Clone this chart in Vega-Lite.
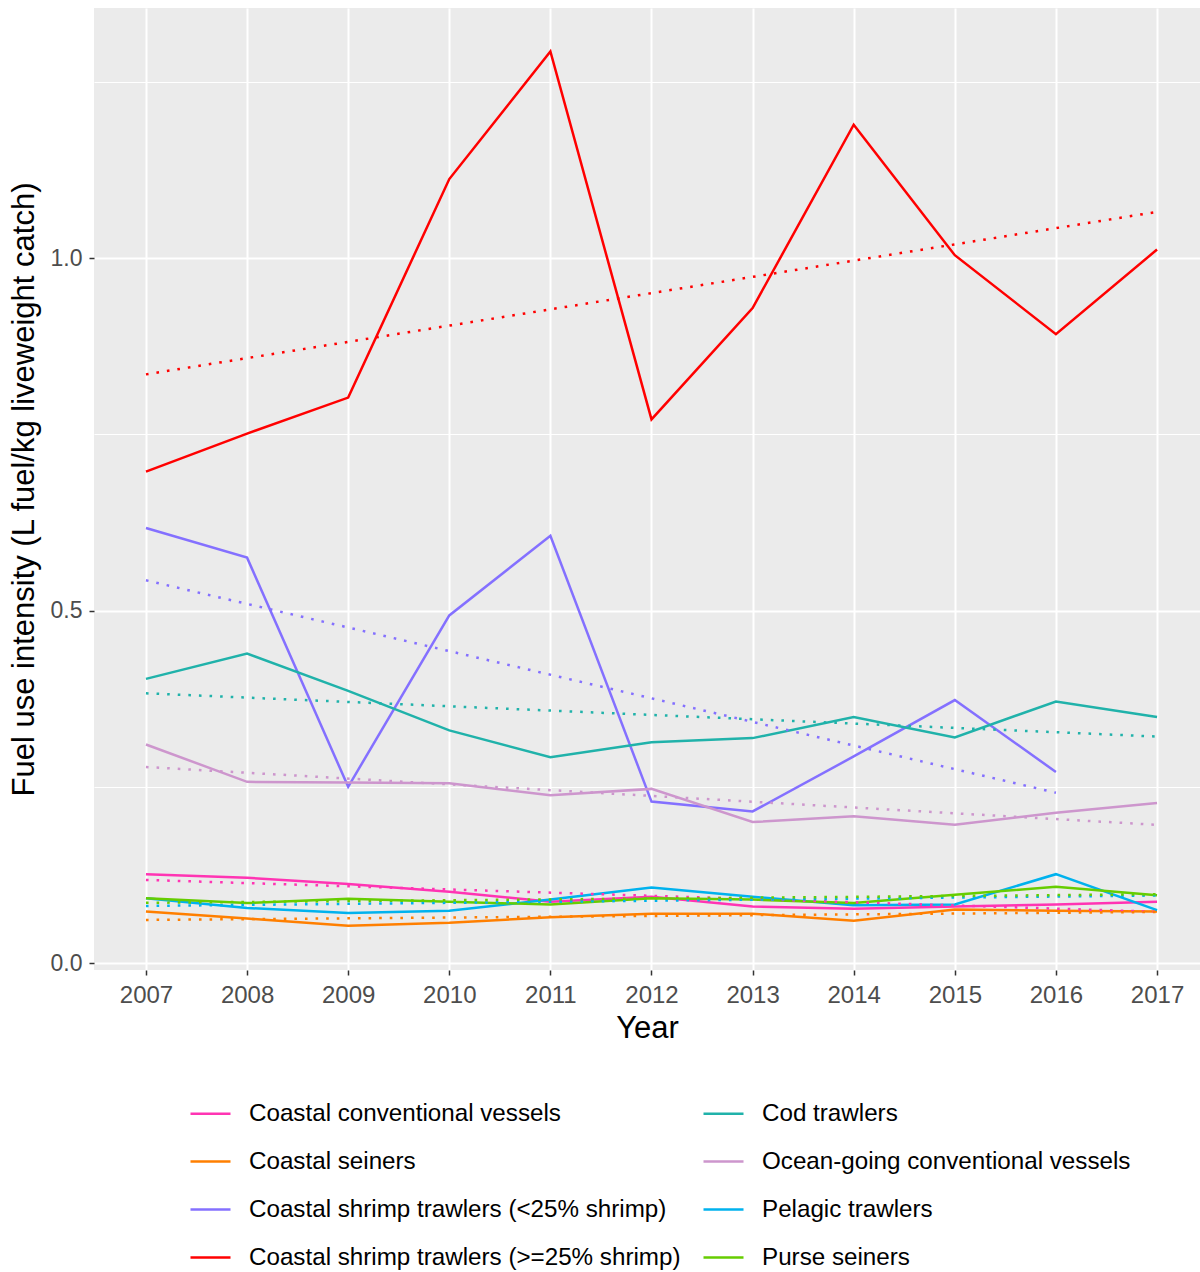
{
  "$schema": "https://vega.github.io/schema/vega-lite/v6.json",
  "autosize": {"type": "none"},
  "padding": {"left": 94, "top": 8, "right": 0, "bottom": 302},
  "width": 1106,
  "height": 962,
  "background": "white",
  "config": {
    "view": {"fill": "#EBEBEB", "stroke": null},
    "font": "Liberation Sans"
  },
  "data": {
    "values": [
      {"vessel": "Coastal conventional vessels", "year": 2007, "value": 0.126},
      {"vessel": "Coastal conventional vessels", "year": 2008, "value": 0.121},
      {"vessel": "Coastal conventional vessels", "year": 2009, "value": 0.112},
      {"vessel": "Coastal conventional vessels", "year": 2010, "value": 0.101},
      {"vessel": "Coastal conventional vessels", "year": 2011, "value": 0.087},
      {"vessel": "Coastal conventional vessels", "year": 2012, "value": 0.094},
      {"vessel": "Coastal conventional vessels", "year": 2013, "value": 0.080},
      {"vessel": "Coastal conventional vessels", "year": 2014, "value": 0.077},
      {"vessel": "Coastal conventional vessels", "year": 2015, "value": 0.080},
      {"vessel": "Coastal conventional vessels", "year": 2016, "value": 0.083},
      {"vessel": "Coastal conventional vessels", "year": 2017, "value": 0.087},
      {"vessel": "Coastal seiners", "year": 2007, "value": 0.073},
      {"vessel": "Coastal seiners", "year": 2008, "value": 0.063},
      {"vessel": "Coastal seiners", "year": 2009, "value": 0.053},
      {"vessel": "Coastal seiners", "year": 2010, "value": 0.057},
      {"vessel": "Coastal seiners", "year": 2011, "value": 0.065},
      {"vessel": "Coastal seiners", "year": 2012, "value": 0.070},
      {"vessel": "Coastal seiners", "year": 2013, "value": 0.070},
      {"vessel": "Coastal seiners", "year": 2014, "value": 0.060},
      {"vessel": "Coastal seiners", "year": 2015, "value": 0.076},
      {"vessel": "Coastal seiners", "year": 2016, "value": 0.074},
      {"vessel": "Coastal seiners", "year": 2017, "value": 0.073},
      {"vessel": "Coastal shrimp trawlers (<25% shrimp)", "year": 2007, "value": 0.617},
      {"vessel": "Coastal shrimp trawlers (<25% shrimp)", "year": 2008, "value": 0.575},
      {"vessel": "Coastal shrimp trawlers (<25% shrimp)", "year": 2009, "value": 0.250},
      {"vessel": "Coastal shrimp trawlers (<25% shrimp)", "year": 2010, "value": 0.493},
      {"vessel": "Coastal shrimp trawlers (<25% shrimp)", "year": 2011, "value": 0.606},
      {"vessel": "Coastal shrimp trawlers (<25% shrimp)", "year": 2012, "value": 0.229},
      {"vessel": "Coastal shrimp trawlers (<25% shrimp)", "year": 2013, "value": 0.215},
      {"vessel": "Coastal shrimp trawlers (<25% shrimp)", "year": 2014, "value": 0.293},
      {"vessel": "Coastal shrimp trawlers (<25% shrimp)", "year": 2015, "value": 0.373},
      {"vessel": "Coastal shrimp trawlers (<25% shrimp)", "year": 2016, "value": 0.271},
      {"vessel": "Coastal shrimp trawlers (>=25% shrimp)", "year": 2007, "value": 0.697},
      {"vessel": "Coastal shrimp trawlers (>=25% shrimp)", "year": 2008, "value": 0.751},
      {"vessel": "Coastal shrimp trawlers (>=25% shrimp)", "year": 2009, "value": 0.802},
      {"vessel": "Coastal shrimp trawlers (>=25% shrimp)", "year": 2010, "value": 1.112},
      {"vessel": "Coastal shrimp trawlers (>=25% shrimp)", "year": 2011, "value": 1.293},
      {"vessel": "Coastal shrimp trawlers (>=25% shrimp)", "year": 2012, "value": 0.771},
      {"vessel": "Coastal shrimp trawlers (>=25% shrimp)", "year": 2013, "value": 0.929},
      {"vessel": "Coastal shrimp trawlers (>=25% shrimp)", "year": 2014, "value": 1.189},
      {"vessel": "Coastal shrimp trawlers (>=25% shrimp)", "year": 2015, "value": 1.004},
      {"vessel": "Coastal shrimp trawlers (>=25% shrimp)", "year": 2016, "value": 0.892},
      {"vessel": "Coastal shrimp trawlers (>=25% shrimp)", "year": 2017, "value": 1.012},
      {"vessel": "Cod trawlers", "year": 2007, "value": 0.403},
      {"vessel": "Cod trawlers", "year": 2008, "value": 0.439},
      {"vessel": "Cod trawlers", "year": 2009, "value": 0.386},
      {"vessel": "Cod trawlers", "year": 2010, "value": 0.330},
      {"vessel": "Cod trawlers", "year": 2011, "value": 0.292},
      {"vessel": "Cod trawlers", "year": 2012, "value": 0.313},
      {"vessel": "Cod trawlers", "year": 2013, "value": 0.319},
      {"vessel": "Cod trawlers", "year": 2014, "value": 0.349},
      {"vessel": "Cod trawlers", "year": 2015, "value": 0.320},
      {"vessel": "Cod trawlers", "year": 2016, "value": 0.371},
      {"vessel": "Cod trawlers", "year": 2017, "value": 0.349},
      {"vessel": "Ocean-going conventional vessels", "year": 2007, "value": 0.310},
      {"vessel": "Ocean-going conventional vessels", "year": 2008, "value": 0.257},
      {"vessel": "Ocean-going conventional vessels", "year": 2009, "value": 0.256},
      {"vessel": "Ocean-going conventional vessels", "year": 2010, "value": 0.255},
      {"vessel": "Ocean-going conventional vessels", "year": 2011, "value": 0.238},
      {"vessel": "Ocean-going conventional vessels", "year": 2012, "value": 0.247},
      {"vessel": "Ocean-going conventional vessels", "year": 2013, "value": 0.200},
      {"vessel": "Ocean-going conventional vessels", "year": 2014, "value": 0.208},
      {"vessel": "Ocean-going conventional vessels", "year": 2015, "value": 0.196},
      {"vessel": "Ocean-going conventional vessels", "year": 2016, "value": 0.213},
      {"vessel": "Ocean-going conventional vessels", "year": 2017, "value": 0.227},
      {"vessel": "Pelagic trawlers", "year": 2007, "value": 0.092},
      {"vessel": "Pelagic trawlers", "year": 2008, "value": 0.078},
      {"vessel": "Pelagic trawlers", "year": 2009, "value": 0.071},
      {"vessel": "Pelagic trawlers", "year": 2010, "value": 0.074},
      {"vessel": "Pelagic trawlers", "year": 2011, "value": 0.090},
      {"vessel": "Pelagic trawlers", "year": 2012, "value": 0.107},
      {"vessel": "Pelagic trawlers", "year": 2013, "value": 0.094},
      {"vessel": "Pelagic trawlers", "year": 2014, "value": 0.082},
      {"vessel": "Pelagic trawlers", "year": 2015, "value": 0.083},
      {"vessel": "Pelagic trawlers", "year": 2016, "value": 0.126},
      {"vessel": "Pelagic trawlers", "year": 2017, "value": 0.075},
      {"vessel": "Purse seiners", "year": 2007, "value": 0.092},
      {"vessel": "Purse seiners", "year": 2008, "value": 0.085},
      {"vessel": "Purse seiners", "year": 2009, "value": 0.091},
      {"vessel": "Purse seiners", "year": 2010, "value": 0.087},
      {"vessel": "Purse seiners", "year": 2011, "value": 0.083},
      {"vessel": "Purse seiners", "year": 2012, "value": 0.092},
      {"vessel": "Purse seiners", "year": 2013, "value": 0.090},
      {"vessel": "Purse seiners", "year": 2014, "value": 0.085},
      {"vessel": "Purse seiners", "year": 2015, "value": 0.097},
      {"vessel": "Purse seiners", "year": 2016, "value": 0.108},
      {"vessel": "Purse seiners", "year": 2017, "value": 0.096}
    ]
  },
  "resolve": {"axis": {"y": "independent"}},
  "layer": [
    {
      "mark": {"type": "line", "strokeWidth": 2.5},
      "encoding": {
        "x": {
          "field": "year", "type": "quantitative",
          "scale": {"domain": [2006.486, 2017.425], "nice": false, "zero": false},
          "axis": {
            "values": [2007, 2008, 2009, 2010, 2011, 2012, 2013, 2014, 2015, 2016, 2017],
            "format": "d", "title": "Year", "domain": false,
            "grid": true, "gridColor": "white", "gridWidth": 2,
            "tickColor": "#333333", "tickSize": 5, "tickWidth": 1.5,
            "labelFontSize": 24, "labelColor": "#4D4D4D", "labelPadding": 8,
            "titleFontSize": 31, "titleFontWeight": "normal", "titleColor": "black", "titlePadding": 6
          }
        },
        "y": {
          "field": "value", "type": "quantitative",
          "scale": {"domain": [-0.0099, 1.3546], "nice": false, "zero": false},
          "axis": {
            "values": [0, 0.5, 1], "format": ".1f",
            "title": "Fuel use intensity (L fuel/kg liveweight catch)", "domain": false,
            "grid": true, "gridColor": "white", "gridWidth": 2,
            "tickColor": "#333333", "tickSize": 5, "tickWidth": 1.5,
            "labelFontSize": 23, "labelColor": "#4D4D4D", "labelPadding": 7,
            "titleFontSize": 31, "titleFontWeight": "normal", "titleColor": "black", "titlePadding": 10
          }
        },
        "color": {
          "field": "vessel", "type": "nominal",
          "scale": {
            "domain": ["Coastal conventional vessels", "Coastal seiners", "Coastal shrimp trawlers (<25% shrimp)", "Coastal shrimp trawlers (>=25% shrimp)", "Cod trawlers", "Ocean-going conventional vessels", "Pelagic trawlers", "Purse seiners"],
            "range": ["#FF34B3", "#FF7F00", "#8470FF", "#FF0000", "#20B2AA", "#CD96CD", "#00B2EE", "#66CD00"]
          },
          "legend": {
            "orient": "none", "legendX": 95, "legendY": 1084, "columns": 2,
            "title": null, "symbolType": "stroke", "symbolSize": 1600, "symbolStrokeWidth": 2.5,
            "labelFontSize": 24.2, "labelOffset": 17, "labelColor": "black", "labelLimit": 700,
            "rowPadding": 14, "columnPadding": 17, "padding": 0
          }
        }
      }
    },
    {
      "transform": [{"regression": "value", "on": "year", "groupby": ["vessel"]}],
      "mark": {"type": "line", "strokeWidth": 2.5, "strokeDash": [2.6, 8], "strokeCap": "butt"},
      "encoding": {
        "x": {"field": "year", "type": "quantitative"},
        "y": {
          "field": "value", "type": "quantitative",
          "axis": {
            "orient": "right", "values": [0.25, 0.75, 1.25], "labels": false, "ticks": false,
            "domain": false, "title": null, "grid": true, "gridColor": "white", "gridWidth": 1, "zindex": 0
          }
        },
        "color": {"field": "vessel", "type": "nominal", "legend": null}
      }
    }
  ]
}
